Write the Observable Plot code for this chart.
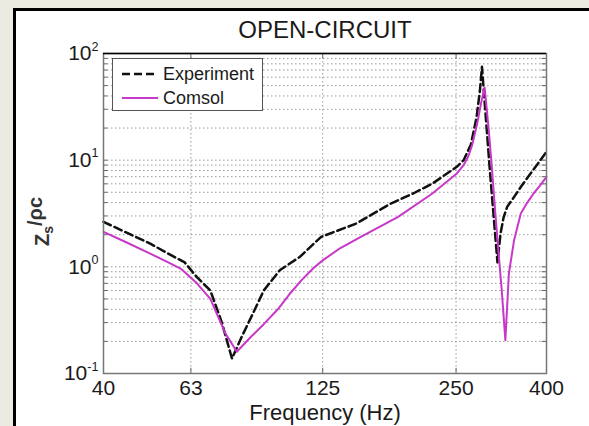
<!DOCTYPE html>
<html>
<head>
<meta charset="utf-8">
<script src="https://cdn.jsdelivr.net/npm/d3@7"></script>
<script src="https://cdn.jsdelivr.net/npm/@observablehq/plot@0.6"></script>
<style>
  html, body { margin: 0; padding: 0; background: #ecebe1; width: 589px; height: 426px; overflow: hidden; }
  #panel { position: absolute; left: 13px; top: 8px; width: 600px; height: 430px; background: #fff;
           border-left: 3px solid #000; border-top: 3px solid #000; }
  #chart { position: absolute; left: 0; top: 0; }
  #legend { position: absolute; left: 112px; top: 58px; width: 149px; height: 51px; background: #fff;
            border: 1.5px solid #555; font-family: "Liberation Sans", Arial, sans-serif; font-size: 18px; color: #1a1a1a; }
  .row { position: absolute; left: 8px; height: 22px; display: flex; align-items: center; }
  .row svg { margin-right: 4px; }
</style>
</head>
<body>
<div id="panel"></div>
<div id="chart"></div>
<div id="legend">
  <div class="row" style="top:4px"><svg width="38" height="10"><line x1="1" y1="5" x2="37" y2="5" stroke="#111" stroke-width="2.5" stroke-dasharray="8,4"/></svg><span>Experiment</span></div>
  <div class="row" style="top:28px"><svg width="38" height="10"><line x1="1" y1="5" x2="37" y2="5" stroke="#c837c8" stroke-width="2"/></svg><span>Comsol</span></div>
</div>
<script>
const titleText = "OPEN-CIRCUIT";
const xLabel = "Frequency (Hz)";
const yLabel = "Zs/ρc";
const seriesNames = ["Experiment", "Comsol"];
const xTicks = [40, 63, 125, 250, 400];
const yTicks = [0.1, 1, 10, 100];

const expFreq = [40, 45, 51, 56, 61, 65, 69.7, 74, 78, 82, 87, 92, 100, 111, 124, 149, 178, 200, 221, 251, 260, 270, 278, 283, 286, 298, 310, 315, 320, 326, 339, 350, 360, 375, 400];
const expVal  = [2.64, 2.1, 1.65, 1.33, 1.1, 0.8, 0.6, 0.3, 0.138, 0.22, 0.366, 0.6, 0.93, 1.24, 1.91, 2.55, 3.92, 4.87, 6.03, 8.66, 10, 14, 25, 45, 75, 8, 1.1, 2.05, 2.9, 3.65, 4.6, 5.6, 6.6, 8.3, 12];

const comFreq = [40, 45, 51, 56, 60, 65, 69.7, 75.4, 80, 86, 92, 99, 105, 112, 119, 125, 137, 152, 185, 221, 251, 260, 266, 272, 279, 285, 290, 296, 301, 306, 311, 317, 323, 329, 338, 350, 362, 374, 387, 400];
const comVal  = [2.13, 1.7, 1.33, 1.1, 0.95, 0.7, 0.5, 0.237, 0.16, 0.22, 0.29, 0.4, 0.55, 0.75, 0.97, 1.15, 1.5, 1.9, 2.94, 4.87, 7.5, 9, 10.7, 14, 22, 35, 48, 20, 8.7, 3.5, 1.54, 0.6, 0.205, 0.87, 1.78, 3.16, 4.0, 4.87, 5.8, 6.98];

const exp = expFreq.map((f, i) => ({f, v: expVal[i]}));
const com = comFreq.map((f, i) => ({f, v: comVal[i]}));

const yGrid = [];
for (let e = -1; e < 2; e++) for (let m = 1; m <= 9; m++) yGrid.push(m * Math.pow(10, e));
yGrid.push(100);

const font = "Liberation Sans, Arial, sans-serif";
const gridStyle = {stroke: "#9a9a9a", strokeDasharray: "1.5,2.5", strokeWidth: 1};
const centered = {textAnchor: "middle", lineAnchor: "middle"};

const chart = Plot.plot({
  width: 589, height: 426,
  marginLeft: 103, marginRight: 43, marginTop: 53, marginBottom: 53,
  x: {type: "log", domain: [40, 400]},
  y: {type: "log", domain: [0.1, 100]},
  style: {fontFamily: font, background: "transparent", color: "#1a1a1a", overflow: "visible"},
  marks: [
    Plot.ruleY(yGrid.filter(d => d > 0.1 && d < 100), gridStyle),
    Plot.ruleX(xTicks.filter(d => d > 40 && d < 400), gridStyle),
    Plot.ruleY(yGrid, {x1: 40, x2: 40.9, stroke: "#666"}),
    Plot.ruleY(yGrid, {x1: 391, x2: 400, stroke: "#666"}),
    Plot.ruleX(xTicks, {y1: 0.1, y2: 0.112, stroke: "#666"}),
    Plot.ruleX(xTicks, {y1: 89, y2: 100, stroke: "#666"}),
    Plot.line(exp, {x: "f", y: "v", stroke: "#111", strokeWidth: 2.5, strokeDasharray: "8,4"}),
    Plot.line(com, {x: "f", y: "v", stroke: "#c837c8", strokeWidth: 2}),
    Plot.frame({stroke: "#777", strokeWidth: 1.5}),
    Plot.ruleY([100], {stroke: "#000", strokeWidth: 1.5}),
    Plot.axisX({ticks: xTicks, tickFormat: d => String(d), tickSize: 0, tickPadding: 7, fontSize: 21, label: null}),
    Plot.axisY({ticks: yTicks, tickFormat: d => "10^" + Math.round(Math.log10(d)), tickSize: 0, tickPadding: 5, fontSize: 21, label: null}),
    Plot.text([xLabel], {text: d => d, frameAnchor: "bottom", dy: 39, fontSize: 22, ...centered}),
    Plot.text([yLabel], {text: d => d, frameAnchor: "left", rotate: -90, dx: -61, dy: 8, fontSize: 20, fontWeight: "bold", fill: "#333", ...centered}),
    Plot.text([titleText], {text: d => d, frameAnchor: "top", dy: -23, fontSize: 24, ...centered})
  ]
});
document.getElementById("chart").appendChild(chart);

// superscript exponents on y tick labels, subscript in the y label
const svg = d3.select(chart);
svg.selectAll("text").each(function() {
  const t = d3.select(this);
  const s = this.textContent;
  if (/^10\^-?\d$/.test(s)) {
    const ex = s.split("^")[1];
    t.text(null).attr("font-size", 21);
    t.append("tspan").text("10");
    t.append("tspan").attr("dy", "-0.75em").attr("font-size", "0.6em").text(ex);
  } else if (s === yLabel) {
    t.text(null);
    t.append("tspan").text("Z");
    t.append("tspan").attr("dy", "0.3em").attr("font-size", "0.7em").text("s");
    t.append("tspan").attr("dy", "-0.55em").text("/ρc");
  }
});
</script>
</body>
</html>
